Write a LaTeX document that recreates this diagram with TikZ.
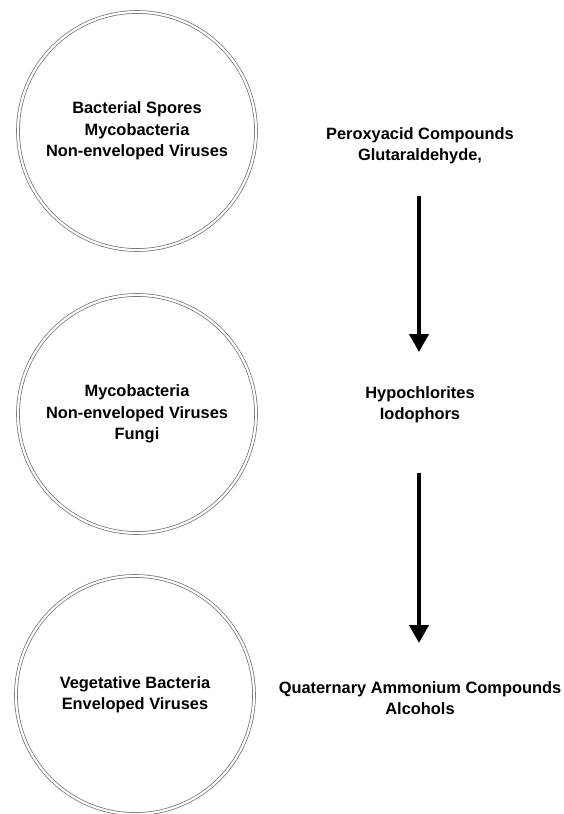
\documentclass[tikz,border=0pt]{standalone}
\usepackage{fontspec}
\setmainfont{Liberation Sans}
\usetikzlibrary{arrows.meta}

\tikzset{
  ring/.style={circle,draw=gray!85!black,double,double distance=2.2pt,line width=.7pt,
    minimum size=238pt,inner sep=0pt,align=center},
  agent/.style={align=center,inner sep=1pt},
  flow/.style={line width=4pt,-{Triangle[width=19pt,length=18pt]}}
}

\begin{document}
\begin{tikzpicture}[x=1pt,y=-1pt,font=\fontsize{16.4}{21.5}\selectfont\bfseries]
\useasboundingbox (0,0) rectangle (563,814);

\node at (137,131) [ring] (Ring1) {Bacterial Spores\\Mycobacteria\\Non-enveloped Viruses};
\node at (137,414) [ring] (Ring2) {Mycobacteria\\Non-enveloped Viruses\\Fungi};
\node at (135,695) [ring] (Ring3) {Vegetative Bacteria\\Enveloped Viruses};

\node at (420,146) [agent] (Agent1) {Peroxyacid Compounds\\Glutaraldehyde,};
\node at (420,405) [agent] (Agent2) {Hypochlorites\\Iodophors};
\node at (420,698) [agent] (Agent3) {Quaternary Ammonium Compounds\\Alcohols};

\coordinate (Flow1a) at (419,196);
\coordinate (Flow1b) at (419,352);
\coordinate (Flow2a) at (419,473);
\coordinate (Flow2b) at (419,643);
\draw [flow] (Flow1a) -- (Flow1b);
\draw [flow] (Flow2a) -- (Flow2b);

\end{tikzpicture}
\end{document}
